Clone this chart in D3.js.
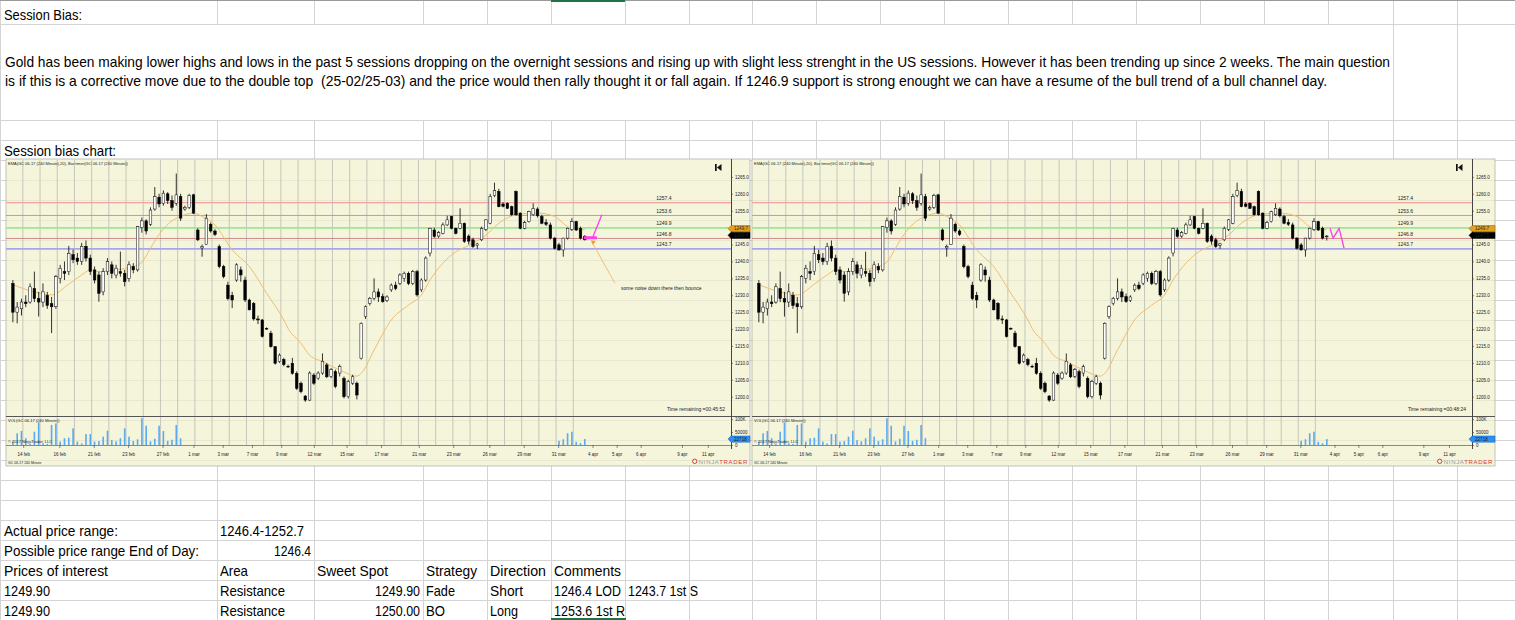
<!DOCTYPE html>
<html>
<head>
<meta charset="utf-8">
<script src="https://cdn.jsdelivr.net/npm/d3@7"></script>
<style>
  html, body { margin: 0; padding: 0; background: #fff; overflow: hidden; }
  svg { display: block; }
  .ct { font-family: "Liberation Sans", Arial, sans-serif; fill: #222; }
  .st { font-family: "Liberation Sans", Arial, sans-serif; font-size: 14.5px; fill: #000; white-space: pre; }
</style>
</head>
<body>
<script>
// ---- GC 06-17, 240 minute bars ----
const opens = [
  1233.5,1225,1226,1228,1228,1232,1229,1228,1230,1227.5,
  1226.6,1235,1237,1237,1242,1241,1240,1244.5,1241,1237.5,
  1236,1231,1237,1239,1236,1237,1236.5,1235,1238.5,1237.5,
  1250,1252,1251,1255.5,1259,1257.2,1260,1258,1257.2,1259.2,
  1255.5,1256,1259.7,1249.3,1244,1245,1251,1249,1244.4,1238.5,
  1233,1230,1234.5,1237.5,1234.5,1228.6,1227.6,1223,1222.7,1220.2,
  1218.8,1214.8,1210.4,1211,1209,1209.9,1206.9,1204,1200.2,1199,
  1206.4,1205.5,1207,1209.4,1206,1207.4,1207,1205.4,1200,1204,
  1204,1211.4,1223.7,1227.6,1229.1,1231,1229.6,1228.5,1231.6,1233,
  1233.5,1235,1236.5,1233.5,1237,1231.6,1234.5,1242.5,1249.3,1247.5,
  1248.3,1250.8,1253.3,1249.8,1249.8,1251.3,1247.5,1246.4,1244.8,1246.4,
  1249.5,1251.3,1259.5,1260.7,1257,1257.2,1256.2,1260.7,1254.3,1249.8,
  1251.8,1253.8,1255.5,1253.3,1251.5,1250.8,1246.9,1244.9,1243.4,1246.9,
  1249.5,1251.8,1249.8,1247.4
];
const highs = [
  1234.5,1228,1229,1230,1233.5,1237,1231,1233.5,1231,1229.5,
  1236,1239,1240,1244.6,1243.5,1242.5,1245.5,1246.2,1242,1238.5,
  1237,1238,1241,1240,1239,1242.9,1237.5,1240,1239.5,1250.5,
  1253,1252.5,1256,1262,1260,1261,1260.5,1259.5,1266,1260,
  1256.5,1260,1260,1249.8,1245,1254,1251.5,1249.5,1245,1239,
  1234,1231,1239.5,1238.5,1235.5,1229,1228,1224,1223,1220.5,
  1219.5,1215,1212.8,1211.5,1209.5,1211.5,1207.5,1204.5,1200.5,1207.5,
  1207,1207.5,1212.8,1210,1208.5,1208,1209.5,1206,1205,1206.5,
  1204.5,1222,1227,1229.5,1235,1232,1230.5,1230,1233.5,1234,
  1236.5,1237,1237,1237.5,1237.5,1235,1241.5,1250,1250,1249,
  1251.5,1253.5,1253.5,1250,1255.7,1251.5,1248,1247,1245.5,1250.3,
  1252.5,1260,1263.3,1261.5,1257.5,1257.5,1256.5,1261,1254.5,1252,
  1255,1257.2,1256,1253.8,1252.5,1251.5,1247.2,1245.5,1247,1250,
  1252.8,1252,1250.3,1247.8
];
const lows = [
  1222,1221.7,1224,1226.5,1227.5,1228,1223.7,1226.5,1226,1218.8,
  1226,1233.5,1234.5,1236,1239.5,1239,1239,1240,1236,1233.5,
  1228.1,1230,1236,1235,1235,1235.5,1232.6,1234,1236.5,1237,
  1248.5,1248,1250.5,1255,1256,1256.5,1257,1255,1256.5,1252,
  1255,1255.5,1254,1246,1241.4,1244.9,1248.5,1247.5,1238,1235,
  1228.5,1226.2,1234,1234,1228,1225.5,1222.5,1221.5,1217.5,1219.8,
  1214.5,1209.5,1210,1209,1208.5,1206.5,1202,1201,1198.5,1198.8,
  1203.5,1205,1206.5,1205.5,1205.5,1202.5,1206,1199.5,1199.5,1203.5,
  1199.2,1211,1223,1227,1228.5,1228,1227.8,1228,1231,1231.5,
  1233,1234,1233,1233,1229.6,1231,1234,1241.5,1247,1247,
  1248,1250.5,1249.5,1248,1249.5,1245.5,1245,1244,1243.7,1246,
  1249,1251,1259,1256,1256,1255.5,1253.5,1253.5,1249.5,1249.5,
  1251.5,1253.5,1253,1251,1250.5,1246.5,1243.5,1243.2,1241.4,1246.5,
  1249,1249,1246.5,1246.2
];
const closes = [
  1225,1226.5,1228,1227.5,1232.5,1229,1228,1231,1227,1226.6,
  1235.5,1238,1236.5,1242.4,1240.5,1240,1244.5,1241,1237,1234.5,
  1230.6,1237,1240,1236.5,1238,1236.5,1234,1239,1237.5,1250.3,
  1252,1249,1255.2,1259.2,1257,1260.2,1258,1256,1259.7,1252.8,
  1256,1259.5,1254.3,1246.4,1244.4,1252.8,1249,1248,1238.5,1235.5,
  1229,1228.6,1239,1236,1228.6,1225.7,1223,1222.7,1217.8,1220,
  1214.8,1209.9,1212.3,1209.5,1208.9,1206.9,1202.5,1201.5,1199,1207,
  1204,1207,1210.5,1205.9,1208,1203,1208.9,1200,1204.5,1205.9,
  1200.5,1221.7,1226.6,1229.1,1231,1229.5,1228.1,1229.5,1233,1232,
  1236,1236.5,1233.5,1237,1230.1,1234.5,1241,1249.8,1247.4,1248.5,
  1250.8,1252.3,1249.8,1248.3,1251.3,1245.9,1246,1244.4,1245.2,1249.8,
  1252.3,1259.2,1261,1256.2,1256.3,1255.7,1253.8,1253.8,1249.8,1251.5,
  1254.7,1255.7,1253.5,1251.3,1251,1246.9,1243.9,1243.4,1246.9,1249.8,
  1251.8,1249.3,1246.9,1246.4
];
const barsPerDay = 4;

// volume (thousands) - only two stretches are loaded in the screenshot
const volumeStartA = 0;
const volumeA = [13,45,54,26,5,51,87,6,4,77,83,13,26,28,64,13,6,42,42,13,
                 15,32,55,19,14,26,64,32,15,22,103,74,14,24,74,54,16,20,77,26];
const volumeStartB = 127;
const volumeB = [16,22,45,51,12,7,22.718];

// EMA(20): bar index / value
const emaIdx  = [0,5,9,13,16,18,20,24,28,30,32,34,37,39,42,44,47,51,55,59,
                 63,64,67,69,72,76,80,81,84,88,92,95,97,102,107,110,113,117,122,126,
                 129,132,133];
const emaVals = [1233.1,1231.0,1230.1,1233.3,1236.0,1237.5,1237.0,1237.5,1238.5,1239.8,
                 1243.9,1248.0,1252.0,1253.3,1254.3,1253.3,1250.8,1243.4,1238.5,1230.6,
                 1222.7,1220.2,1215.8,1212.3,1210.4,1207.9,1206.1,1206.9,1213.8,1222.7,
                 1227.1,1230.1,1234.5,1241.9,1245.4,1247.8,1251.3,1253.8,1254.3,1253.3,
                 1250.3,1249.3,1249.5];

// horizontal levels drawn by the trader
const levelPrices = [1257.4, 1253.6, 1249.9, 1246.8, 1243.7];
const levelLabelDay = 37.85;

// axes
const priceTicks = [1200,1205,1210,1215,1220,1225,1230,1235,1240,1245,1250,1255,1260,1265];
const volumeTicks = [0, 50000, 100000];
const dayTicks  = [0.6,2.7,4.7,6.7,8.7,10.5,12.2,13.9,15.6,17.5,19.4,21.4,23.6,25.6,27.7,29.7,31.7,33.7,35.1,36.5,38.9,40.4];
const dayLabels = ["14 feb","16 feb","21 feb","23 feb","27 feb","1 mar","3 mar","7 mar","9 mar","12 mar","15 mar",
                   "17 mar","21 mar","23 mar","26 mar","29 mar","31 mar","4 apr","5 apr","6 apr","9 apr","11 apr"];

// markers on the price axis
const emaMarker = 1249.7;
const lastPriceLeft = 1246.4;
const lastPriceRight = 1247.5;

// drawings on the charts (day / price)
const leftBarDays = [33.2, 33.95], leftBarPrice = 1247.0;
const leftLineDays = [33.72, 34.24], leftLinePrices = [1247.2, 1253.8];
const arrowDays = [33.66, 35.0], arrowPrices = [1245.8, 1233.6];
const noteDay = 37.7, notePrice = 1231.6;
const noteText = "some noise down there then bounce";
const zigDays = [33.44, 33.62, 33.97, 34.26];
const zigPrices = [1249.8, 1246.9, 1249.8, 1243.9];

// ---- spreadsheet text ----
const paragraph = [
  "Gold has been making lower highs and lows in the past 5 sessions dropping on the overnight sessions and rising up with slight less strenght in the US sessions. However it has been trending up since 2 weeks. The main question",
  "is if this is a corrective move due to the double top  (25-02/25-03) and the price would then rally thought it or fall again. If 1246.9 support is strong enought we can have a resume of the bull trend of a bull channel day."
];
const summaryRows = [
  ["Actual price range:", "1246.4-1252.7"],
  ["Possible price range End of Day:", "1246.4"],
  ["Prices of interest", "Area", "Sweet Spot", "Strategy", "Direction", "Comments"],
  ["1249.90", "Resistance", "1249.90", "Fade", "Short", "1246.4 LOD", "1243.7 1st S"],
  ["1249.90", "Resistance", "1250.00", "BO", "Long", "1253.6 1st R"]
];
const numericCells = [[1, 1], [3, 2], [4, 2]];

// rendered widths of the Calibri text in the screenshot (px)
const summaryWidths = [
  [114, 84],
  [195, 37],
  [104, 28, 71, 51, 56, 67],
  [46, 65, 45, 29, 33, 67, 70],
  [46, 65, 45, 19, 28, 71]
];

// ---- page ----
const W = 1515, H = 620;
const svg = d3.select("body").append("svg").attr("width", W).attr("height", H);
svg.append("rect").attr("width", W).attr("height", H).attr("fill", "#fff");

const colEdges = [0, 217, 314, 423, 487, 551, 625, 689, 752, 816, 880, 944, 1008, 1072, 1136, 1200, 1264, 1328, 1393, 1457];
const rowEdges = [0, 24, 120].concat(d3.range(140, 621, 20));
const gridColor = "#d4d4d4";

// horizontal sheet lines
svg.append("g").selectAll("line").data(rowEdges.slice(1)).join("line")
  .attr("x1", 0).attr("x2", W)
  .attr("y1", d => d + 0.5).attr("y2", d => d + 0.5)
  .attr("stroke", gridColor);

// vertical sheet lines, per row (the paragraph row is one wide cell)
rowEdges.slice(0, -1).forEach((top, r) => {
  const bottom = rowEdges[r + 1];
  const cols = top === 24 ? colEdges.filter(c => c === 0 || c >= 1393) : colEdges;
  svg.append("g").selectAll("line").data(cols).join("line")
    .attr("x1", d => d + 0.5).attr("x2", d => d + 0.5)
    .attr("y1", top).attr("y2", bottom)
    .attr("stroke", gridColor);
});

// top border and selection marks
svg.append("line").attr("x1", 0).attr("x2", W).attr("y1", 0.5).attr("y2", 0.5).attr("stroke", "#9a9a9a");
svg.append("line").attr("x1", 551).attr("x2", 625).attr("y1", 1).attr("y2", 1).attr("stroke", "#217346").attr("stroke-width", 2);
svg.append("line").attr("x1", 551).attr("x2", 626).attr("y1", 619).attr("y2", 619).attr("stroke", "#217346").attr("stroke-width", 2);

// sheet texts (Calibri-like: Liberation Sans squeezed to the reference width)
function sheetText(x, y, str, width, anchor) {
  return svg.append("text").attr("class", "st").attr("x", x).attr("y", y)
    .attr("text-anchor", anchor || "start").text(str)
    .attr("textLength", width).attr("lengthAdjust", "spacingAndGlyphs");
}
sheetText(4, 20, "Session Bias:", 78);
sheetText(5, 67, paragraph[0], 1385);
sheetText(5, 86, paragraph[1], 1322);
sheetText(4, 156, "Session bias chart:", 112);

summaryRows.forEach((row, r) => {
  const baseline = 536 + r * 20;
  row.forEach((txt, c) => {
    const isNum = numericCells.some(([rr, cc]) => rr === r && cc === c);
    const w = summaryWidths[r][c];
    if (isNum) sheetText(colEdges[c + 1] - 3, baseline, txt, w, "end");
    else sheetText(colEdges[c] + (c === 0 ? 4 : 3), baseline, txt, w);
  });
});

// ---- charts ----
const dayDomain = [-0.4, 41.75];
const priceDomain = [1194.3, 1270];
const PT = 160, PB = 416, VB = 445, CT = 159, CB = 466;
const fmt1 = d3.format(".1f");

function drawChart(c) {
  const g = svg.append("g");
  const x = d3.scaleLinear().domain(dayDomain).range([c.left, c.axisX]);
  const y = d3.scaleLinear().domain(priceDomain).range([PB, PT]);
  const yv = d3.scaleLinear().domain([0, 111500]).range([VB, PB]);

  g.append("rect").attr("x", c.left).attr("y", CT).attr("width", c.right - c.left).attr("height", CB - CT)
    .attr("fill", "#f5f5dc").attr("stroke", "#b4b4a8").attr("stroke-width", 0.8);

  // faint sheet rows showing through the picture
  g.append("g").selectAll("line").data(d3.range(180, 461, 20)).join("line")
    .attr("x1", c.left).attr("x2", c.right).attr("y1", d => d + 0.5).attr("y2", d => d + 0.5)
    .attr("stroke", "#000").attr("stroke-opacity", 0.05);

  // session separators
  g.append("g").selectAll("line").data(d3.range(33).map(k => k + 0.58)).join("line")
    .attr("x1", d => x(d)).attr("x2", d => x(d)).attr("y1", PT).attr("y2", VB)
    .attr("stroke", "#c6c6bb").attr("stroke-width", 1);

  // levels
  const levelStyle = [
    {stroke: "#f3a0a0", w: 1.3}, {stroke: "#c88c8c", w: 0.9}, {stroke: "#98e898", w: 1.8},
    {stroke: "#c88080", w: 0.9}, {stroke: "#a6a6ec", w: 1.8}
  ];
  levelPrices.forEach((p, i) => {
    g.append("line").attr("x1", c.left).attr("x2", c.axisX).attr("y1", y(p)).attr("y2", y(p))
      .attr("stroke", levelStyle[i].stroke).attr("stroke-width", levelStyle[i].w);
    g.append("text").attr("class", "ct").attr("x", x(levelLabelDay)).attr("y", y(p) - 2.5)
      .attr("text-anchor", "middle").style("font-size", "5px").attr("fill", "#444").text(fmt1(p));
  });

  // EMA
  g.append("path")
    .datum(emaIdx.map((d, i) => [d / barsPerDay, emaVals[i]]))
    .attr("fill", "none").attr("stroke", "#f0bd72").attr("stroke-width", 1)
    .attr("d", d3.line().x(d => x(d[0])).y(d => y(d[1])).curve(d3.curveMonotoneX));

  // candles
  const bars = opens.map((o, i) => ({
    day: i / barsPerDay, o: o, h: highs[i], l: lows[i],
    c: (i === opens.length - 1 ? c.lastClose : closes[i])
  }));
  const bw = 2.6;
  g.append("g").selectAll("line").data(bars).join("line")
    .attr("x1", d => x(d.day)).attr("x2", d => x(d.day))
    .attr("y1", d => y(d.h)).attr("y2", d => y(d.l))
    .attr("stroke", "#000").attr("stroke-width", 0.8);
  g.append("g").selectAll("rect").data(bars).join("rect")
    .attr("x", d => x(d.day) - bw / 2).attr("width", bw)
    .attr("y", d => y(Math.max(d.o, d.c)))
    .attr("height", d => Math.max(0.7, Math.abs(y(d.o) - y(d.c))))
    .attr("fill", d => d.c >= d.o ? "#fff" : "#000")
    .attr("stroke", "#000").attr("stroke-width", 0.5);

  // panel separators and right axis line
  g.append("line").attr("x1", c.left).attr("x2", c.right).attr("y1", PB + 0.5).attr("y2", PB + 0.5).attr("stroke", "#555");
  g.append("line").attr("x1", c.left).attr("x2", c.axisX).attr("y1", VB + 0.5).attr("y2", VB + 0.5).attr("stroke", "#8a8a80");
  g.append("line").attr("x1", c.axisX + 0.5).attr("x2", c.axisX + 0.5).attr("y1", CT).attr("y2", VB + 4).attr("stroke", "#444");

  // volume
  const vols = volumeA.map((v, i) => ({day: (volumeStartA + i) / barsPerDay, v: v * 1000}))
    .concat(volumeB.map((v, i) => ({day: (volumeStartB + i) / barsPerDay, v: v * 1000})));
  g.append("g").selectAll("rect").data(vols).join("rect")
    .attr("x", d => x(d.day) - 0.8).attr("width", 1.6)
    .attr("y", d => yv(d.v)).attr("height", d => VB - yv(d.v))
    .attr("fill", "#5aaaf0");

  // axes
  const ay = g.append("g").attr("transform", `translate(${c.axisX},0)`)
    .call(d3.axisRight(y).tickValues(priceTicks).tickFormat(fmt1).tickSize(2).tickPadding(2));
  const av = g.append("g").attr("transform", `translate(${c.axisX},0)`)
    .call(d3.axisRight(yv).tickValues(volumeTicks).tickFormat(d => d === 100000 ? "100K" : String(d)).tickSize(2).tickPadding(2));
  const ax = g.append("g").attr("transform", `translate(0,${VB})`)
    .call(d3.axisBottom(x).tickValues(dayTicks).tickFormat((d, i) => dayLabels[i]).tickSize(3).tickPadding(5));
  [ay, av, ax].forEach(a => {
    a.select(".domain").remove();
    a.selectAll(".tick line").attr("stroke", "#444").attr("stroke-width", 0.6);
    a.selectAll(".tick text").attr("class", "ct").style("font-size", "4.5px").attr("fill", "#333");
  });

  // axis markers: EMA (orange) with last price stacked beneath (black), volume (blue)
  const bh = 6.2;
  function marker(yc, fill, stroke, txtColor, label) {
    const a = c.axisX - 3;
    g.append("path")
      .attr("d", `M${a},${yc} L${c.axisX},${yc - bh / 2} L${c.right},${yc - bh / 2} L${c.right},${yc + bh / 2} L${c.axisX},${yc + bh / 2} Z`)
      .attr("fill", fill).attr("stroke", stroke).attr("stroke-width", 0.5);
    g.append("text").attr("class", "ct").attr("x", c.axisX + 3).attr("y", yc + 1.6)
      .style("font-size", "4.6px").attr("fill", txtColor).text(label);
  }
  const emaY = y(emaMarker);
  marker(emaY, "#e6a11c", "#8a5e00", "#222", fmt1(emaMarker));
  marker(emaY + bh + 0.5, "#000", "#000", "#fff", fmt1(c.lastPrice));
  const lastVol = volumeB[volumeB.length - 1] * 1000;
  marker(yv(lastVol), "#2f8ff0", "#1060c0", "#fff", String(Math.round(lastVol)));

  // chart texts
  g.append("text").attr("class", "ct").attr("x", c.left + 2).attr("y", 165).style("font-size", "4px")
    .text("EMA(GC 06-17 (240 Minute),20), Bar timer(GC 06-17 (240 Minute))");
  g.append("text").attr("class", "ct").attr("x", c.left + 2).attr("y", 422).style("font-size", "4px")
    .text("VOL(GC 06-17 (240 Minute))");
  g.append("text").attr("class", "ct").attr("x", c.left + 2).attr("y", 443).style("font-size", "4px")
    .text("\u00a9 2017 NinjaTrader, LLC");
  g.append("text").attr("class", "ct").attr("x", c.left + 2).attr("y", 463.5).style("font-size", "3.5px")
    .text("GC 06-17 240 Minute");
  g.append("text").attr("class", "ct").attr("x", c.axisX - 6).attr("y", 411).attr("text-anchor", "end")
    .style("font-size", "5px").text("Time remaining =" + c.timer);

  // rewind icon
  const ix = c.axisX - 16;
  g.append("rect").attr("x", ix).attr("y", 164).attr("width", 1.7).attr("height", 7).attr("fill", "#111");
  g.append("path").attr("d", `M${ix + 6.5},164 L${ix + 2},167.5 L${ix + 6.5},171 Z`).attr("fill", "#111");

  // NinjaTrader logo
  const logo = g.append("text").attr("class", "ct").attr("x", c.right - 2).attr("y", 463.5)
    .attr("text-anchor", "end").style("font-size", "6px").style("letter-spacing", "0.7px");
  logo.append("tspan").attr("fill", "#9a9a9a").text("NINJA");
  logo.append("tspan").attr("fill", "#d23b3b").text("TRADER");
  const lw = logo.node().getComputedTextLength();
  g.append("circle").attr("cx", c.right - 2 - lw - 4).attr("cy", 461.3).attr("r", 2.2)
    .attr("fill", "none").attr("stroke", "#c03030").attr("stroke-width", 0.9);

  c.draw(g, x, y);
}

drawChart({
  left: 6, axisX: 731, right: 750, lastClose: lastPriceLeft, lastPrice: lastPriceLeft, timer: "00:45:52",
  draw: (g, x, y) => {
    g.append("line").attr("x1", x(leftBarDays[0])).attr("x2", x(leftBarDays[1]))
      .attr("y1", y(leftBarPrice)).attr("y2", y(leftBarPrice))
      .attr("stroke", "#ff3cf0").attr("stroke-width", 3);
    g.append("line").attr("x1", x(leftLineDays[0])).attr("x2", x(leftLineDays[1]))
      .attr("y1", y(leftLinePrices[0])).attr("y2", y(leftLinePrices[1]))
      .attr("stroke", "#ff3cf0").attr("stroke-width", 1.3);
    g.append("line").attr("x1", x(arrowDays[0])).attr("x2", x(arrowDays[1]))
      .attr("y1", y(arrowPrices[0])).attr("y2", y(arrowPrices[1]))
      .attr("stroke", "#f5b060").attr("stroke-width", 0.8);
    const ax0 = x(arrowDays[0]), ay0 = y(arrowPrices[0]);
    g.append("path").attr("d", `M${ax0 - 1},${ay0 - 1.5} L${ax0 + 4},${ay0 - 0.5} L${ax0 + 1},${ay0 + 3} Z`)
      .attr("fill", "#ff9a20");
    g.append("text").attr("class", "ct").attr("x", x(noteDay)).attr("y", y(notePrice))
      .attr("text-anchor", "middle").style("font-size", "5px").attr("fill", "#444").text(noteText);
  }
});

drawChart({
  left: 752, axisX: 1472, right: 1495, lastClose: lastPriceRight, lastPrice: lastPriceRight, timer: "00:48:24",
  draw: (g, x, y) => {
    g.append("path")
      .datum(zigDays.map((d, i) => [d, zigPrices[i]]))
      .attr("fill", "none").attr("stroke", "#ff3cf0").attr("stroke-width", 1.3)
      .attr("d", d3.line().x(d => x(d[0])).y(d => y(d[1])));
  }
});
</script>
</body>
</html>
